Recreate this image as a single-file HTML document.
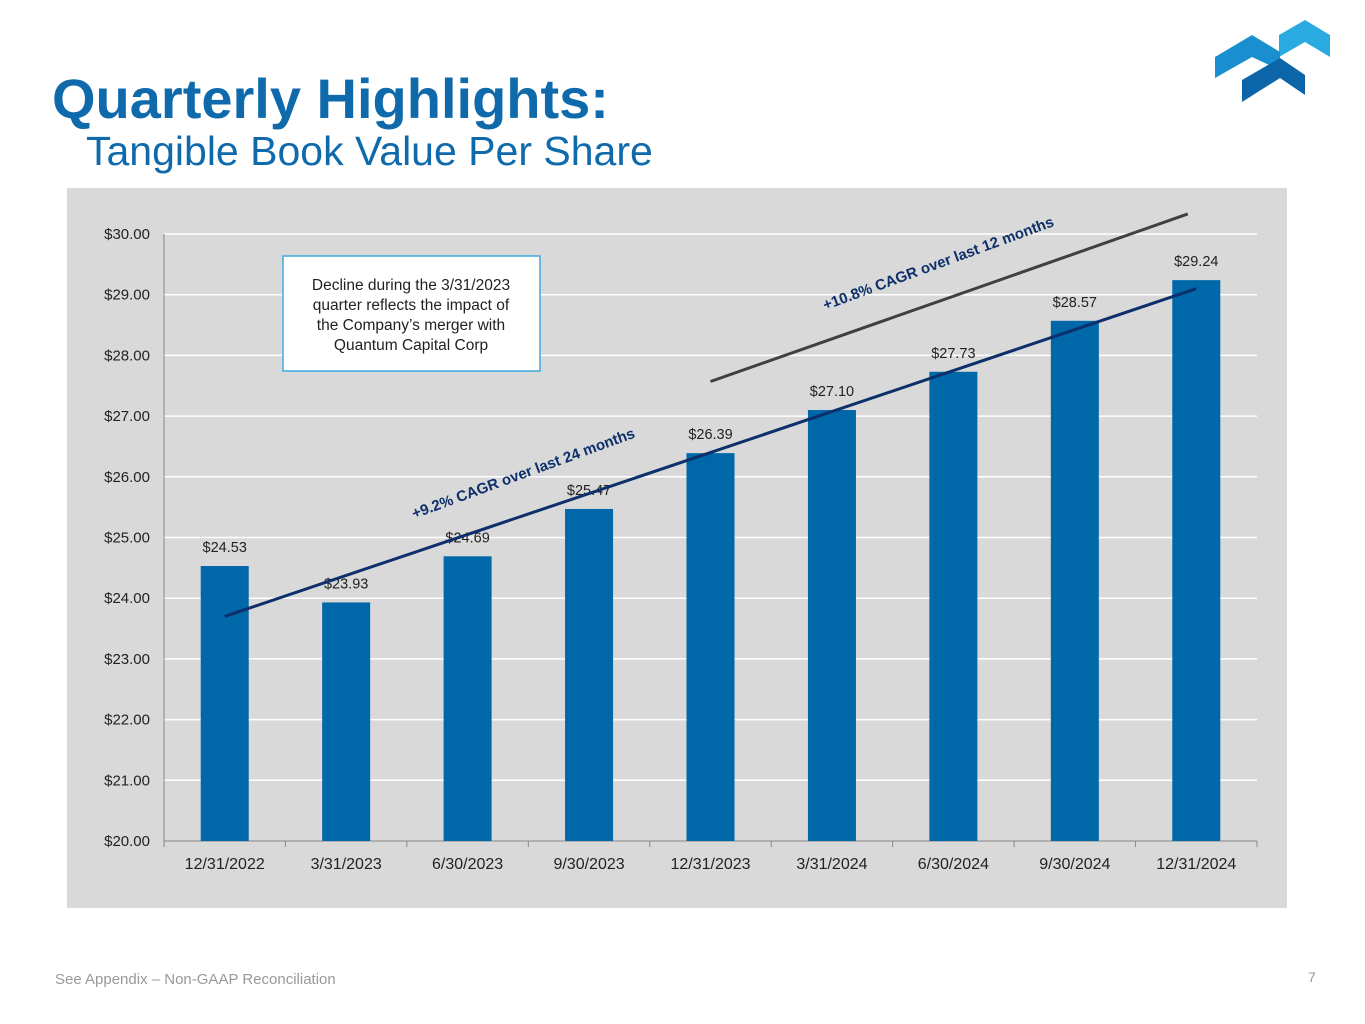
<!DOCTYPE html>
<html><head><meta charset="utf-8"><style>
html,body{margin:0;padding:0;background:#fff;}
body{width:1365px;height:1024px;position:relative;overflow:hidden;font-family:"Liberation Sans",Arial,sans-serif;}
.t1{position:absolute;left:52px;top:66px;font-size:56px;font-weight:bold;color:#0f6aac;}
.t2{position:absolute;left:86px;top:128px;font-size:41px;color:#0f6aac;}
.foot{position:absolute;left:55px;top:971px;font-size:15px;color:#999;}
.pg{position:absolute;left:1308px;top:969px;font-size:14px;color:#999;}
</style></head><body>
<div class="t1">Quarterly Highlights:</div>
<div class="t2">Tangible Book Value Per Share</div>
<svg style="position:absolute;left:0;top:0" width="1365" height="120">
<polygon points="1279,35 1305,20 1330,35 1330,57 1305,42 1279,57" fill="#29abe2"/>
<polygon points="1215,57 1252,35 1280,52 1280,70 1252,57 1215,78" fill="#1a8fd0"/>
<polygon points="1242,80 1280,58 1305,75 1305,95 1280,78 1242,102" fill="#0c65a8"/>
</svg>
<svg id="chart" style="position:absolute;left:0;top:0" width="1365" height="1024"></svg>
<div class="foot">See Appendix – Non-GAAP Reconciliation</div>
<div class="pg">7</div>
<script>
const categories=["12/31/2022","3/31/2023","6/30/2023","9/30/2023","12/31/2023","3/31/2024","6/30/2024","9/30/2024","12/31/2024"];
const values=[24.53,23.93,24.69,25.47,26.39,27.10,27.73,28.57,29.24];
const yTicks=[20,21,22,23,24,25,26,27,28,29,30];
const trend24=[[0,23.7],[8,29.1]];
const trend12=[[4,27.57],[7.93,30.33]];
const NS="http://www.w3.org/2000/svg";
const svg=document.getElementById('chart');
const x0=164,x1=1257,y0=841,y1=234;
const bw=(x1-x0)/categories.length;
const X=i=>x0+bw*(i+0.5);
const Y=v=>y0-(v-20)/(30-20)*(y0-y1);
function mk(t,a,p){const e=document.createElementNS(NS,t);for(const k in a)e.setAttribute(k,a[k]);(p||svg).appendChild(e);return e;}
const bg=mk('rect',{x:67,y:188,width:1220,height:720,fill:'#d9d9d9'});


yTicks.forEach(t=>{
 if(t>20){const g=mk('line',{x1:x0,x2:x1,y1:Y(t),y2:Y(t),stroke:'#fff','stroke-width':1.5});
 
 }
 const l=mk('text',{x:150,y:Y(t)+5,'text-anchor':'end','font-size':15,fill:'#222'});
 l.textContent='$'+t.toFixed(2);
 
 
});
mk('line',{x1:x0,x2:x0,y1:y1,y2:y0,stroke:'#888'});
mk('line',{x1:x0,x2:x1,y1:y0,y2:y0,stroke:'#888'});
categories.forEach((c,i)=>{
 mk('line',{x1:x0+bw*i,x2:x0+bw*i,y1:y0,y2:y0+6,stroke:'#888'});
 const b=mk('rect',{x:X(i)-24,y:Y(values[i]),width:48,height:y0-Y(values[i]),fill:'#0067a8'});
 
 
 const v=mk('text',{x:X(i),y:Y(values[i])-14,'text-anchor':'middle','font-size':14.5,fill:'#222'});
 v.textContent='$'+values[i].toFixed(2);
 
 
 const l=mk('text',{x:X(i),y:869,'text-anchor':'middle','font-size':16,fill:'#222'});
 l.textContent=c;
 
 
});
mk('line',{x1:x0+bw*9,x2:x0+bw*9,y1:y0,y2:y0+6,stroke:'#888'});
const tl1=mk('line',{x1:X(trend24[0][0]),y1:Y(trend24[0][1]),x2:X(trend24[1][0]),y2:Y(trend24[1][1]),stroke:'#0d2f6b','stroke-width':3});


const tl2=mk('line',{x1:X(trend12[0][0]),y1:Y(trend12[0][1]),x2:X(trend12[1][0]),y2:Y(trend12[1][1]),stroke:'#404040','stroke-width':3});


const a1=mk('text',{x:525,y:478,'text-anchor':'middle','font-size':15,'font-weight':'bold',fill:'#0d2f6b',transform:'rotate(-20.2 525 478)'});
a1.textContent='+9.2% CAGR over last 24 months';


const a2=mk('text',{x:940,y:268,'text-anchor':'middle','font-size':15,'font-weight':'bold',fill:'#0d2f6b',transform:'rotate(-20.2 940 268)'});
a2.textContent='+10.8% CAGR over last 12 months';


const nb=mk('rect',{x:283,y:256,width:257,height:115,fill:'#fff',stroke:'#3fa9e0','stroke-width':1.5});


["Decline during the 3/31/2023","quarter reflects the impact of","the Company’s merger with","Quantum Capital Corp"].forEach((s,i)=>{
 const t=mk('text',{x:411,y:290+i*20,'text-anchor':'middle','font-size':15.5,fill:'#222'});
 t.textContent=s;
 
 
});
</script>
</body></html>
